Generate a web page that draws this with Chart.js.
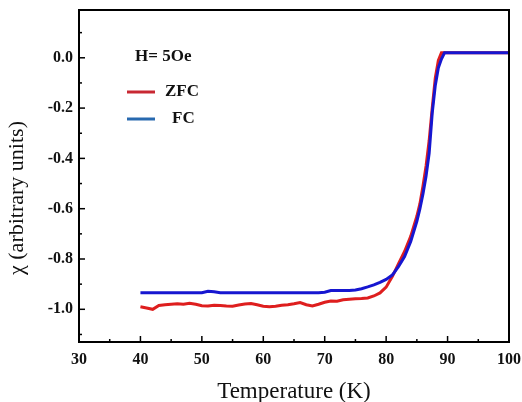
<!DOCTYPE html>
<html>
<head>
<meta charset="utf-8">
<script src="https://cdn.jsdelivr.net/npm/chart.js@4/dist/chart.umd.min.js"></script>
<style>
  html, body { margin: 0; padding: 0; background: #fff; }
  #wrap { width: 522px; height: 402px; }
</style>
</head>
<body>
<div id="wrap"><canvas id="chi-chart"></canvas></div>
<script>
// temperatures (K) shared by both curves
const temps = [40, 41, 42, 43, 44, 45, 46, 47, 48, 49, 50, 51, 52, 53, 54, 55, 56, 57, 58, 59,
    60, 61, 62, 63, 64, 65, 66, 67, 68, 69, 70, 71, 72, 73, 74, 75, 76, 77, 78, 79,
    80, 81, 82, 83, 84, 85, 85.5, 86, 86.5, 87, 87.5, 88, 88.5, 89, 89.5, 90, 92, 94, 96, 98, 100];

// zero field cooled
const zfcValues = [-0.99, -0.995, -1.0, -0.985, -0.982, -0.98, -0.978, -0.98, -0.976, -0.98,
    -0.986, -0.987, -0.984, -0.985, -0.987, -0.988, -0.983, -0.979, -0.977, -0.982,
    -0.988, -0.99, -0.988, -0.984, -0.982, -0.978, -0.973, -0.982, -0.987, -0.98,
    -0.972, -0.967, -0.968, -0.962, -0.96, -0.958, -0.957, -0.955, -0.947, -0.935,
    -0.912, -0.87, -0.82, -0.77, -0.71, -0.63, -0.58, -0.51, -0.43, -0.33,
    -0.2, -0.08, -0.01, 0.02, 0.02, 0.02, 0.02, 0.02, 0.02, 0.02, 0.02];

// field cooled
const fcValues = [-0.934, -0.934, -0.934, -0.934, -0.934, -0.934, -0.934, -0.934, -0.934, -0.934,
    -0.934, -0.928, -0.93, -0.934, -0.934, -0.934, -0.934, -0.934, -0.934, -0.934,
    -0.934, -0.934, -0.934, -0.934, -0.934, -0.934, -0.934, -0.934, -0.934, -0.934,
    -0.932, -0.925, -0.925, -0.925, -0.925, -0.923, -0.918, -0.911, -0.903, -0.893,
    -0.881, -0.864, -0.83, -0.79, -0.73, -0.65, -0.6, -0.54, -0.47, -0.38,
    -0.22, -0.11, -0.04, -0.005, 0.02, 0.02, 0.02, 0.02, 0.02, 0.02, 0.02];

const yTickValues = [-1.0, -0.8, -0.6, -0.4, -0.2, 0.0];
const fieldLabel = 'H= 5Oe';
const serif = '"Liberation Serif", "Times New Roman", serif';

const red = 'rgb(222, 30, 30)';
const blue = 'rgb(22, 22, 208)';
// the legend swatches are a bit duller than the curves
const legendColors = ['rgb(200, 40, 50)', 'rgb(40, 105, 175)'];

// frame + inward tick marks, like the original plot
const frameTicks = {
    id: 'frameTicks',
    afterDraw(chart) {
        const { ctx, chartArea: a, scales: { x, y } } = chart;
        ctx.save();
        ctx.strokeStyle = '#000';
        ctx.lineWidth = 1.5;
        for (let t = 30; t <= 100; t += 5) {
            const px = x.getPixelForValue(t);
            const len = t % 10 === 0 ? 6 : 3;
            ctx.beginPath();
            ctx.moveTo(px, a.bottom);
            ctx.lineTo(px, a.bottom - len);
            ctx.stroke();
        }
        for (let i = -11; i <= 1; i++) {
            const py = y.getPixelForValue(i / 10);
            const len = i % 2 === 0 ? 6 : 3;
            ctx.beginPath();
            ctx.moveTo(a.left, py);
            ctx.lineTo(a.left + len, py);
            ctx.stroke();
        }
        ctx.lineWidth = 2;
        ctx.strokeRect(a.left, a.top, a.right - a.left, a.bottom - a.top);
        ctx.restore();
    }
};

// legend inside the plot area
const innerLegend = {
    id: 'innerLegend',
    afterDraw(chart) {
        const { ctx } = chart;
        ctx.save();
        ctx.fillStyle = '#111';
        ctx.textBaseline = 'middle';
        ctx.textAlign = 'left';
        ctx.font = 'bold 17px ' + serif;
        ctx.fillText(fieldLabel, 135, 57);
        const rows = [[0, 92, 165], [1, 119, 172]];
        rows.forEach(([i, yy, tx]) => {
            const ds = chart.data.datasets[i];
            ctx.strokeStyle = legendColors[i];
            ctx.lineWidth = 3;
            ctx.beginPath();
            ctx.moveTo(127, yy);
            ctx.lineTo(155, yy);
            ctx.stroke();
            ctx.fillStyle = '#111';
            ctx.fillText(ds.label, tx, yy);
        });
        ctx.restore();
    }
};

const ctx = document.getElementById('chi-chart').getContext('2d');
new Chart(ctx, {
    type: 'line',
    data: {
        labels: temps,
        datasets: [{
            label: 'ZFC',
            data: temps.map((t, i) => ({ x: t, y: zfcValues[i] })),
            borderColor: red,
            borderWidth: 3,
            pointRadius: 0,
            order: 1
        }, {
            label: 'FC',
            data: temps.map((t, i) => ({ x: t, y: fcValues[i] })),
            borderColor: blue,
            borderWidth: 3,
            pointRadius: 0,
            order: 0
        }]
    },
    options: {
        responsive: true,
        maintainAspectRatio: false,
        animation: false,
        layout: { padding: { left: 0, top: 10, right: 13, bottom: 0 } },
        plugins: {
            legend: { display: false },
            tooltip: { enabled: false }
        },
        scales: {
            x: {
                type: 'linear',
                min: 30,
                max: 100,
                grid: { display: false, drawTicks: false },
                border: { display: false },
                ticks: {
                    stepSize: 10,
                    padding: 8,
                    color: '#111',
                    font: { family: serif, size: 16, weight: 'bold' }
                },
                title: {
                    display: true,
                    text: 'Temperature (K)',
                    color: '#111',
                    padding: { top: 0, bottom: 0 },
                    font: { family: serif, size: 23, lineHeight: 0.9 }
                },
                afterFit: s => {
                    s.height = 60;
                    s.paddingLeft = 0;
                    s.paddingRight = 0;
                }
            },
            y: {
                min: -1.13,
                max: 0.19,
                grid: { display: false, drawTicks: false },
                border: { display: false },
                afterBuildTicks: s => { s.ticks = yTickValues.map(v => ({ value: v })); },
                ticks: {
                    padding: 6,
                    color: '#111',
                    font: { family: serif, size: 16, weight: 'bold' },
                    callback: v => v.toFixed(1)
                },
                title: {
                    display: true,
                    // trailing spaces push the title down a little, as in the original
                    text: 'χ (arbitrary units)        ',
                    color: '#111',
                    padding: { top: 4, bottom: 0 },
                    font: { family: serif, size: 22 }
                },
                afterFit: s => {
                    s.width = 79;
                    s.paddingTop = 0;
                    s.paddingBottom = 0;
                }
            }
        }
    },
    plugins: [frameTicks, innerLegend]
});
</script>
</body>
</html>
